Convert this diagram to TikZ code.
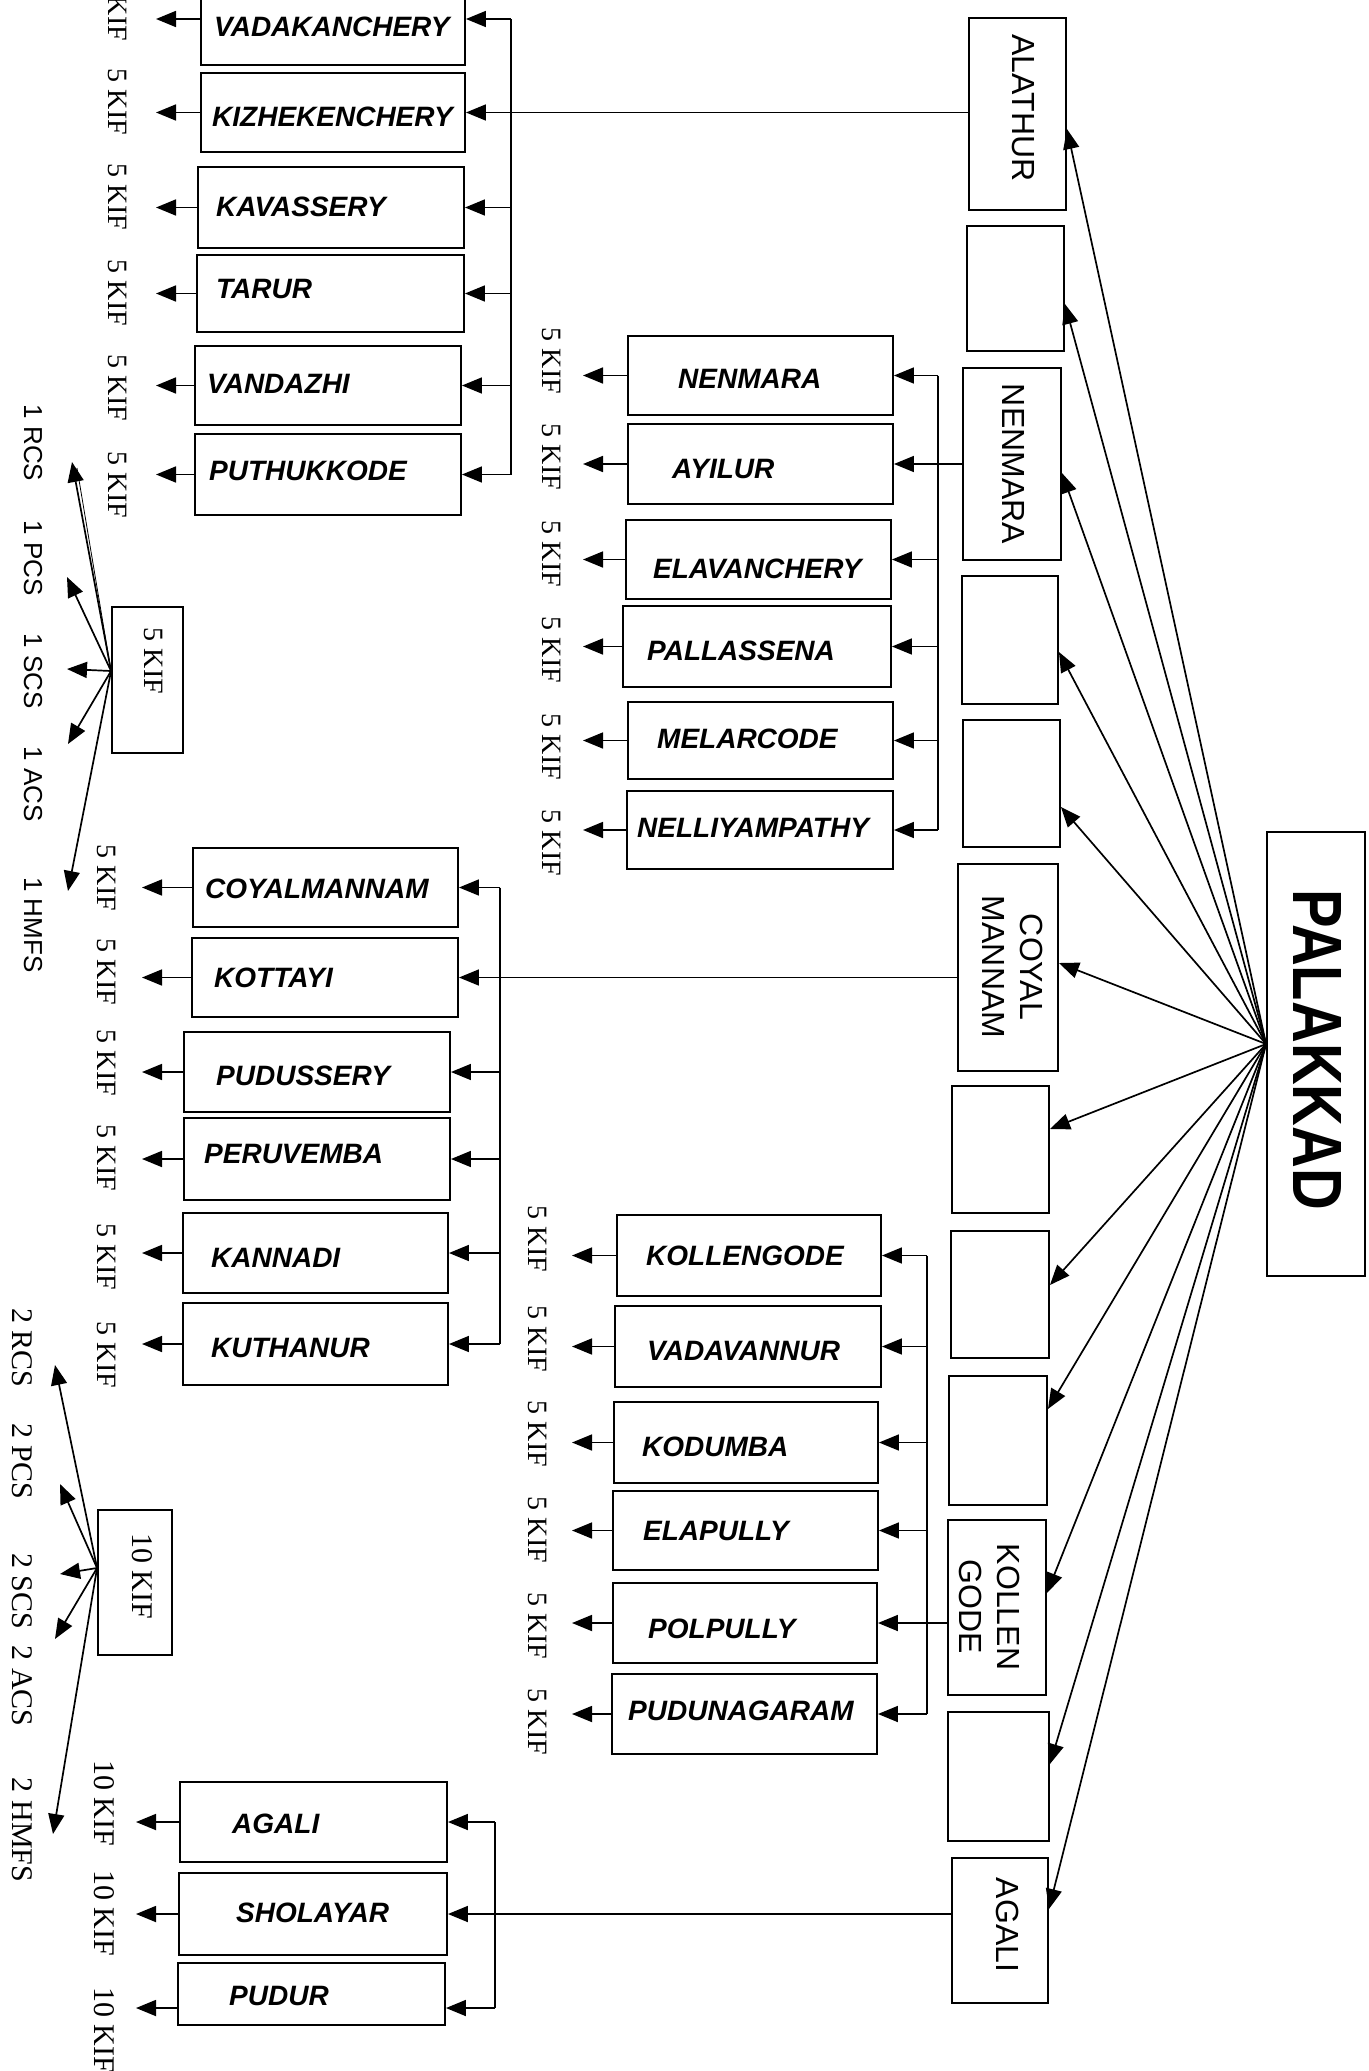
\documentclass[tikz,border=0pt]{standalone}
\usepackage{graphicx}
\usepackage{fontspec}
\setmainfont{Liberation Serif}
\newfontfamily\arialf{Liberation Sans}
\usetikzlibrary{arrows.meta,fit}
\begin{document}
\begin{tikzpicture}[x=1pt,y=-1pt,
 bx/.style={draw, line width=1.9pt, inner sep=0pt},
 htxt/.style={font=\arialf\bfseries\itshape\fontsize{28}{30}\selectfont, inner sep=0pt, anchor=west, text height=20pt, text depth=0pt},
 vtxt/.style={font=\arialf\fontsize{32}{38}\selectfont, rotate=-90, align=center, inner sep=0pt},
 kif/.style={font=\fontsize{28}{30}\selectfont, rotate=-90, inner sep=0pt},
 kifb/.style={font=\fontsize{30}{32}\selectfont, rotate=-90, inner sep=0pt},
 cs/.style={font=\arialf\fontsize{26}{28}\selectfont, rotate=-90, inner sep=0pt},
 csb/.style={font=\fontsize{30}{32}\selectfont, rotate=-90, inner sep=0pt},
 ln/.style={line width=1.7pt},
 arr/.style={line width=1.7pt, -{Triangle[length=20pt,width=16pt]}},
]
\fill[white] (0,0) rectangle (1368,2071);
\useasboundingbox (0,0) rectangle (1368,2071);

% ---- horizontal boxes of the sub-units
\foreach \n/\xa/\ya/\xb/\yb/\tx/\ty/\t in {
 vadak/201/-27/465/65/214/27/VADAKANCHERY,
 kizh/201/73/465/152/212/117/KIZHEKENCHERY,
 kav/198/167/464/248/216/207/KAVASSERY,
 tarur/197/255/464/332/216/288/TARUR,
 vand/195/346/461/425/207/383/VANDAZHI,
 puth/195/434/461/515/209/470/PUTHUKKODE,
 coyalm/193/848/458/927/205/888/COYALMANNAM,
 kottayi/192/938/458/1017/214/977/KOTTAYI,
 puduss/184/1032/450/1112/216/1075/PUDUSSERY,
 peruv/184/1118/450/1200/204/1153/PERUVEMBA,
 kannadi/183/1213/448/1293/211/1257/KANNADI,
 kuth/183/1303/448/1385/211/1347/KUTHANUR,
 agaliL/180/1782/447/1862/232/1823/AGALI,
 shol/179/1873/447/1955/236/1912/SHOLAYAR,
 pudur/178/1963/445/2025/229/1995/PUDUR,
 nenm/628/336/893/415/678/378/NENMARA,
 ayil/628/424/893/504/672/468/AYILUR,
 elav/626/520/891/599/653/568/ELAVANCHERY,
 pall/623/606/891/687/647/650/PALLASSENA,
 melar/628/702/893/779/657/738/MELARCODE,
 nelli/627/791/893/869/637/827/NELLIYAMPATHY,
 kolle/617/1215/881/1296/646/1255/KOLLENGODE,
 vadav/615/1306/881/1387/647/1350/VADAVANNUR,
 kodum/614/1402/878/1483/642/1446/KODUMBA,
 elap/613/1491/878/1570/643/1530/ELAPULLY,
 polp/613/1583/877/1663/648/1628/POLPULLY,
 pudun/612/1674/877/1754/628/1710/PUDUNAGARAM}
{ \node[bx, fit={(\xa,\ya)(\xb,\yb)}] (\n) {};
  \node[htxt] (\n-t) at (\tx,\ty) {\t}; }

% ---- right column, Palakkad and the two small boxes
\foreach \n/\xa/\ya/\xb/\yb in {alathur/969/18/1066/210, rb2/967/226/1064/351,
 nenR/963/368/1061/560, rb4/962/576/1058/704, rb5/963/720/1060/847,
 coyR/958/864/1058/1071, rb7/952/1086/1049/1213, rb8/951/1231/1049/1358,
 rb9/949/1376/1047/1505, kolR/948/1520/1046/1695, rb11/948/1712/1049/1841,
 agaR/952/1858/1048/2003, pal/1267/832/1365/1276,
 kif5/112/607/183/753, kif10/98/1510/172/1655}
 \node[bx, fit={(\xa,\ya)(\xb,\yb)}] (\n) {};

\node[vtxt] (alathur-t) at (1023,108) {ALATHUR};
\node[vtxt] (nenR-t) at (1013,464) {NENMARA};
\node[vtxt] (coyR-t) at (1013,967) {COYAL\\MANNAM};
\node[vtxt] (kolR-t) at (990,1607) {KOLLEN\\GODE};
\node[vtxt] (agaR-t) at (1008,1925) {AGALI};
\node[font=\arialf\bfseries, rotate=-90, inner sep=0pt] (pal-t) at (1317,1050) {\resizebox{320pt}{48pt}{PALAKKAD}};
\node[kif] (kif5-t) at (154,661) {5 KIF};
\node[kifb] (kif10-t) at (142,1576) {10 KIF};

% ---- buses and arrow tips
\coordinate (busA) at (511,0); \coordinate (tipA) at (156,0);
\coordinate (busB) at (938,0); \coordinate (tipB) at (583,0);
\coordinate (busC) at (500,0); \coordinate (tipC) at (142,0);
\coordinate (busD) at (495,0); \coordinate (tipD) at (136,0);
\coordinate (busE) at (927,0); \coordinate (tipE) at (572,0);
\coordinate (pudurE) at ([yshift=-14pt]pudur.east);
\coordinate (pudurW) at ([yshift=-14pt]pudur.west);

% group Alathur
\foreach \n in {vadak,kav,tarur,vand,puth} \draw[arr] (busA |- \n.east) -- (\n.east);
\foreach \n in {vadak,kizh,kav,tarur,vand,puth} \draw[arr] (\n.west) -- (\n.west -| tipA);
\draw[ln] (busA |- vadak.east) -- (busA |- puth.east);
\draw[arr] (alathur.west |- kizh.east) -- (kizh.east);

% group Nenmara
\foreach \n in {nenm,elav,pall,melar,nelli} \draw[arr] (busB |- \n.east) -- (\n.east);
\foreach \n in {nenm,ayil,elav,pall,melar,nelli} \draw[arr] (\n.west) -- (\n.west -| tipB);
\draw[ln] (busB |- nenm.east) -- (busB |- nelli.east);
\draw[arr] (nenR.west |- ayil.east) -- (ayil.east);

% group Coyalmannam
\foreach \n in {coyalm,puduss,peruv,kannadi,kuth} \draw[arr] (busC |- \n.east) -- (\n.east);
\foreach \n in {coyalm,kottayi,puduss,peruv,kannadi,kuth} \draw[arr] (\n.west) -- (\n.west -| tipC);
\draw[ln] (busC |- coyalm.east) -- (busC |- kuth.east);
\draw[arr] (coyR.west |- kottayi.east) -- (kottayi.east);

% group Kollengode
\foreach \n in {kolle,vadav,kodum,elap,pudun} \draw[arr] (busE |- \n.east) -- (\n.east);
\foreach \n in {kolle,vadav,kodum,elap,polp,pudun} \draw[arr] (\n.west) -- (\n.west -| tipE);
\draw[ln] (busE |- kolle.east) -- (busE |- pudun.east);
\draw[arr] (kolR.west |- polp.east) -- (polp.east);

% group Agali
\draw[arr] (busD |- agaliL.east) -- (agaliL.east);
\draw[arr] (busD |- pudurE) -- (pudurE);
\draw[ln] (busD |- agaliL.east) -- (busD |- pudurE);
\draw[arr] (agaR.west |- shol.east) -- (shol.east);
\foreach \n in {agaliL,shol} \draw[arr] (\n.west) -- (\n.west -| tipD);
\draw[arr] (pudurW) -- (pudurW -| tipD);

% ---- KIF labels
\foreach \n/\x/\y in {lA1/118/8, lA2/118/102, lA3/118/197, lA4/118/293, lA5/118/388, lA6/118/485,
 lC1/107/878, lC2/107/972, lC3/107/1063, lC4/107/1158, lC5/107/1257, lC6/107/1355,
 lB1/552/361, lB2/552/457, lB3/552/554, lB4/552/650, lB5/552/747, lB6/552/843,
 lE1/538/1239, lE2/538/1339, lE3/538/1434, lE4/538/1530, lE5/538/1626, lE6/538/1722}
 \node[kif] (\n) at (\x,\y) {5 KIF};
\foreach \n/\y in {lD1/1803, lD2/1913, lD3/2030}
 \node[kifb] (\n) at (104,\y) {10 KIF};

% ---- the 5 KIF fan
\node[cs] (r1) at (33,443) {1 RCS};
\node[cs] (p1) at (33,558) {1 PCS};
\node[cs] (s1) at (33,671) {1 SCS};
\node[cs] (a1) at (33,784) {1 ACS};
\node[cs] (h1) at (33,925) {1 HMFS};
\coordinate (tR1) at (72,462); \coordinate (tP1) at (67,577);
\coordinate (tS1) at (67,669); \coordinate (tA1) at (68,744);
\coordinate (tH1) at (68,891);
\coordinate (o5) at ([yshift=9pt]kif5.west);
\foreach \t in {tR1,tP1,tS1,tA1,tH1} \draw[arr] (o5) -- (\t);
\draw[line width=0.8pt] (o5) -- ([xshift=5pt,yshift=-6pt]tR1);

% ---- the 10 KIF fan
\node[csb] (r2) at (22,1348) {2 RCS};
\node[csb] (p2) at (22,1461) {2 PCS};
\node[csb] (s2) at (22,1591) {2 SCS};
\node[csb] (a2) at (22,1686) {2 ACS};
\node[csb] (h2) at (22,1830) {2 HMFS};
\coordinate (tR2) at (55,1365); \coordinate (tP2) at (60,1484);
\coordinate (tS2) at (60,1574); \coordinate (tA2) at (55,1639);
\coordinate (tH2) at (53,1834);
\coordinate (o10) at ([yshift=14.5pt]kif10.west);
\foreach \t in {tR2,tP2,tS2,tA2,tH2} \draw[arr] (o10) -- (\t);

% ---- Palakkad fan
\coordinate (opal) at ([yshift=10pt]pal.west);
\foreach \n/\s in {alathur/-15pt, rb2/-15.5pt, nenR/-9pt, rb4/-12pt, rb5/-23.5pt,
 coyR/4.5pt, rb7/20.5pt, rb8/9.5pt, rb9/31.5pt, kolR/14.5pt, rb11/12.5pt, agaR/21.5pt}
 \draw[arr] (opal) -- ([yshift=\s]\n.east);
\end{tikzpicture}
\end{document}
